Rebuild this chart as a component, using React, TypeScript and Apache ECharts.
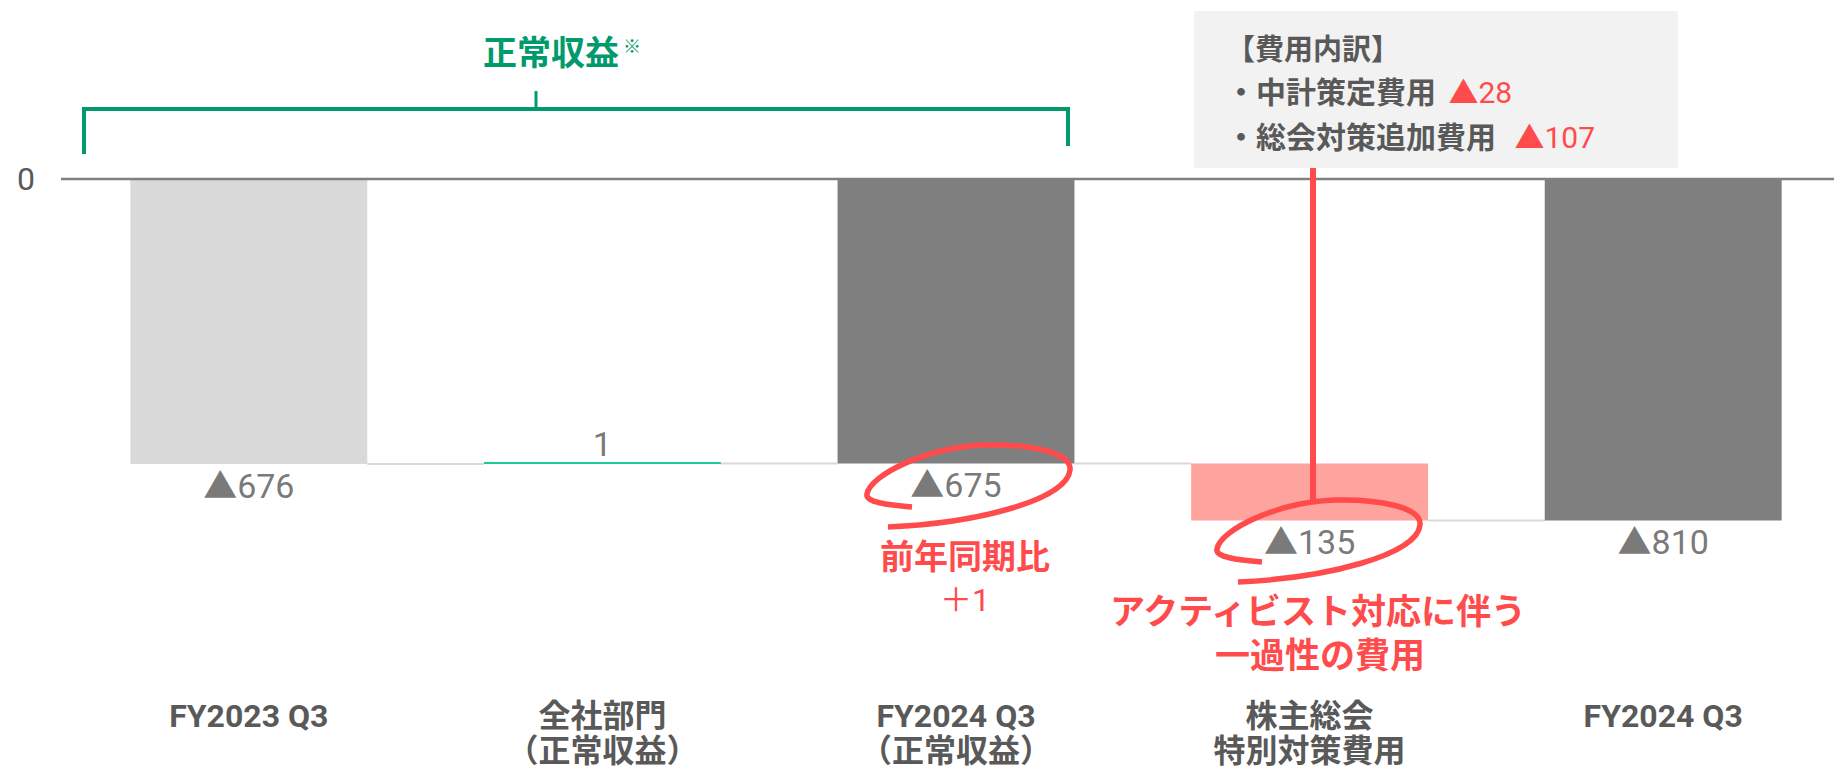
import React, { useEffect, useRef } from 'react';
import * as echarts from 'echarts';

// ---- data ----
const categories = [
  'FY2023 Q3',
  '全社部門\n（正常収益）',
  'FY2024 Q3\n（正常収益）',
  '株主総会\n特別対策費用',
  'FY2024 Q3',
];
const baseValues = [0, -676, 0, -675, 0];
const deltaValues = [-676, 1, -675, -135, -810];
const barColors = ['#d9d9d9', '#1fc99b', '#7f7f7f', '#ffa39e', '#7f7f7f'];
const connectorLevels = [-676, -675, -675, -810];
const breakdownTitle = '【費用内訳】';
const breakdownNames = ['中計策定費用', '総会対策追加費用'];
const breakdownValues = [-28, -107];
const yMin = -1000;
const yMax = 0;
const yInterval = 1000;

const fmt = (v: number) => (v < 0 ? '▲' + Math.abs(v) : String(v));

const FF = "Roboto, 'Noto Sans CJK JP', sans-serif";
const TXT = '#595959';
const GREEN = '#009a6d';
const RED = '#ff4b4b';

const LOOP_D =
  'M45 62 C20 60 -2 57 0 49 C3 30 60 2 118 0 C165 -1 205 8 203 25 C200 55 110 78 21 82';

export default function App() {
  const ref = useRef<HTMLDivElement>(null);

  useEffect(() => {
    document.body.style.margin = '0';
    if (!ref.current) return;
    echarts.graphic.registerShape('loop', echarts.graphic.extendPath(LOOP_D, {}));
    const chart = echarts.init(ref.current, undefined, { renderer: 'svg' });

    const labelData = deltaValues.map((v, i) => ({
      value: [i, baseValues[i] + v],
      label: {
        show: true,
        position: v < 0 ? 'bottom' : 'top',
        distance: v < 0 ? 4 : 2,
        formatter: fmt(v),
      },
    }));

    chart.setOption({
      animation: false,
      grid: { left: 72, top: 179, width: 1768, height: 421.6, outerBoundsMode: 'none' },
      xAxis: {
        type: 'category',
        data: categories,
        axisLine: { show: false, onZero: false },
        axisTick: { show: false },
        splitLine: { show: false },
        axisLabel: {
          interval: 0,
          margin: 98,
          fontSize: 32,
          fontWeight: 'bold',
          color: TXT,
          lineHeight: 35,
          fontFamily: FF,
        },
      },
      yAxis: {
        type: 'value',
        min: yMin,
        max: yMax,
        interval: yInterval,
        axisLine: { show: false },
        axisTick: { show: false },
        splitLine: { show: false },
        axisLabel: {
          formatter: (v: number) => (v === 0 ? '0' : ''),
          fontSize: 32,
          color: TXT,
          margin: 37,
          fontFamily: FF,
        },
      },
      series: [
        {
          type: 'custom',
          z: 1,
          renderItem: (params: any, api: any) => {
            const p = api.coord([api.value(0), api.value(1)]);
            const band = api.size([1, 0])[0];
            const half = (band * 0.67) / 2;
            return {
              type: 'line',
              shape: { x1: p[0] + half, y1: p[1], x2: p[0] + band - half, y2: p[1] },
              style: { stroke: '#d9d9d9', lineWidth: 2 },
            };
          },
          data: connectorLevels.map((l, i) => [i, l]),
        },
        {
          type: 'bar',
          stack: 'wf',
          stackStrategy: 'all',
          barWidth: '67%',
          itemStyle: { color: 'transparent' },
          data: baseValues,
          silent: true,
        },
        {
          type: 'bar',
          stack: 'wf',
          stackStrategy: 'all',
          barWidth: '67%',
          barMinHeight: 2,
          z: 3,
          data: deltaValues.map((v, i) => ({ value: v, itemStyle: { color: barColors[i] } })),
        },
        {
          type: 'scatter',
          symbolSize: 1,
          itemStyle: { color: 'transparent' },
          z: 5,
          label: {
            color: '#555555',
            fontSize: 34,
            lineHeight: 34,
            fontFamily: FF,
          },
          data: labelData,
        },
      ],
    });

    const y0 = chart.convertToPixel({ yAxisIndex: 0 }, 0) as number;

    const txt = (
      x: number,
      y: number,
      text: string,
      size: number,
      color: string,
      bold: boolean,
      align = 'center'
    ) => ({
      type: 'text',
      x,
      y,
      z: 100,
      style: {
        text,
        fontSize: size,
        fontWeight: bold ? 'bold' : 'normal',
        fontFamily: FF,
        fill: color,
        align,
        verticalAlign: 'middle',
        textAlign: align,
        textVerticalAlign: 'middle',
      },
    });

    const breakdownLine = (y: number, i: number, gap: number) => ({
      type: 'text',
      x: 1226,
      y,
      z: 100,
      style: {
        text: `{a|・${breakdownNames[i]} }{b|${fmt(breakdownValues[i])}}`,
        verticalAlign: 'middle',
        textVerticalAlign: 'middle',
        rich: {
          a: { fontSize: 30, fontWeight: 'bold', fill: TXT, fontFamily: FF },
          b: { fontSize: 30, fill: RED, fontFamily: FF, padding: [0, 0, 0, gap] },
        },
      },
    });

    chart.setOption({
      graphic: [
        {
          type: 'line',
          z: 10,
          shape: { x1: 61, y1: y0, x2: 1834, y2: y0 },
          style: { stroke: '#808080', lineWidth: 2.5 },
        },
        {
          type: 'polyline',
          z: 100,
          shape: { points: [[84, 154], [84, 109], [1068, 109], [1068, 146]] },
          style: { stroke: GREEN, lineWidth: 4, fill: null },
        },
        {
          type: 'line',
          z: 100,
          shape: { x1: 536, y1: 91, x2: 536, y2: 109 },
          style: { stroke: GREEN, lineWidth: 3 },
        },
        txt(551, 53, '正常収益', 34, GREEN, true),
        txt(632, 46, '※', 18, GREEN, true),
        {
          type: 'rect',
          z: 90,
          shape: { x: 1194, y: 11, width: 484, height: 157 },
          style: { fill: '#f2f2f2' },
        },
        txt(1226, 50, breakdownTitle, 29, TXT, true, 'left'),
        breakdownLine(92, 0, 5),
        breakdownLine(137, 1, 11),
        {
          type: 'line',
          z: 100,
          shape: { x1: 1313, y1: 168, x2: 1313, y2: 503 },
          style: { stroke: RED, lineWidth: 6 },
        },
        {
          type: 'loop',
          x: 867,
          y: 445,
          z: 100,
          style: { stroke: RED, lineWidth: 5.5, fill: null },
        },
        {
          type: 'loop',
          x: 1217,
          y: 500,
          z: 100,
          style: { stroke: RED, lineWidth: 5.5, fill: null },
        },
        txt(965, 557, '前年同期比', 34, RED, true),
        txt(965, 600, '＋1', 32, RED, false),
        txt(1318, 612, 'アクティビスト対応に伴う', 35, RED, true),
        txt(1320, 656, '一過性の費用', 35, RED, true),
      ],
    });

    return () => {
      chart.dispose();
    };
  }, []);

  return (
    <div
      ref={ref}
      style={{ position: 'absolute', left: 0, top: 0, width: 1834, height: 770 }}
    />
  );
}
